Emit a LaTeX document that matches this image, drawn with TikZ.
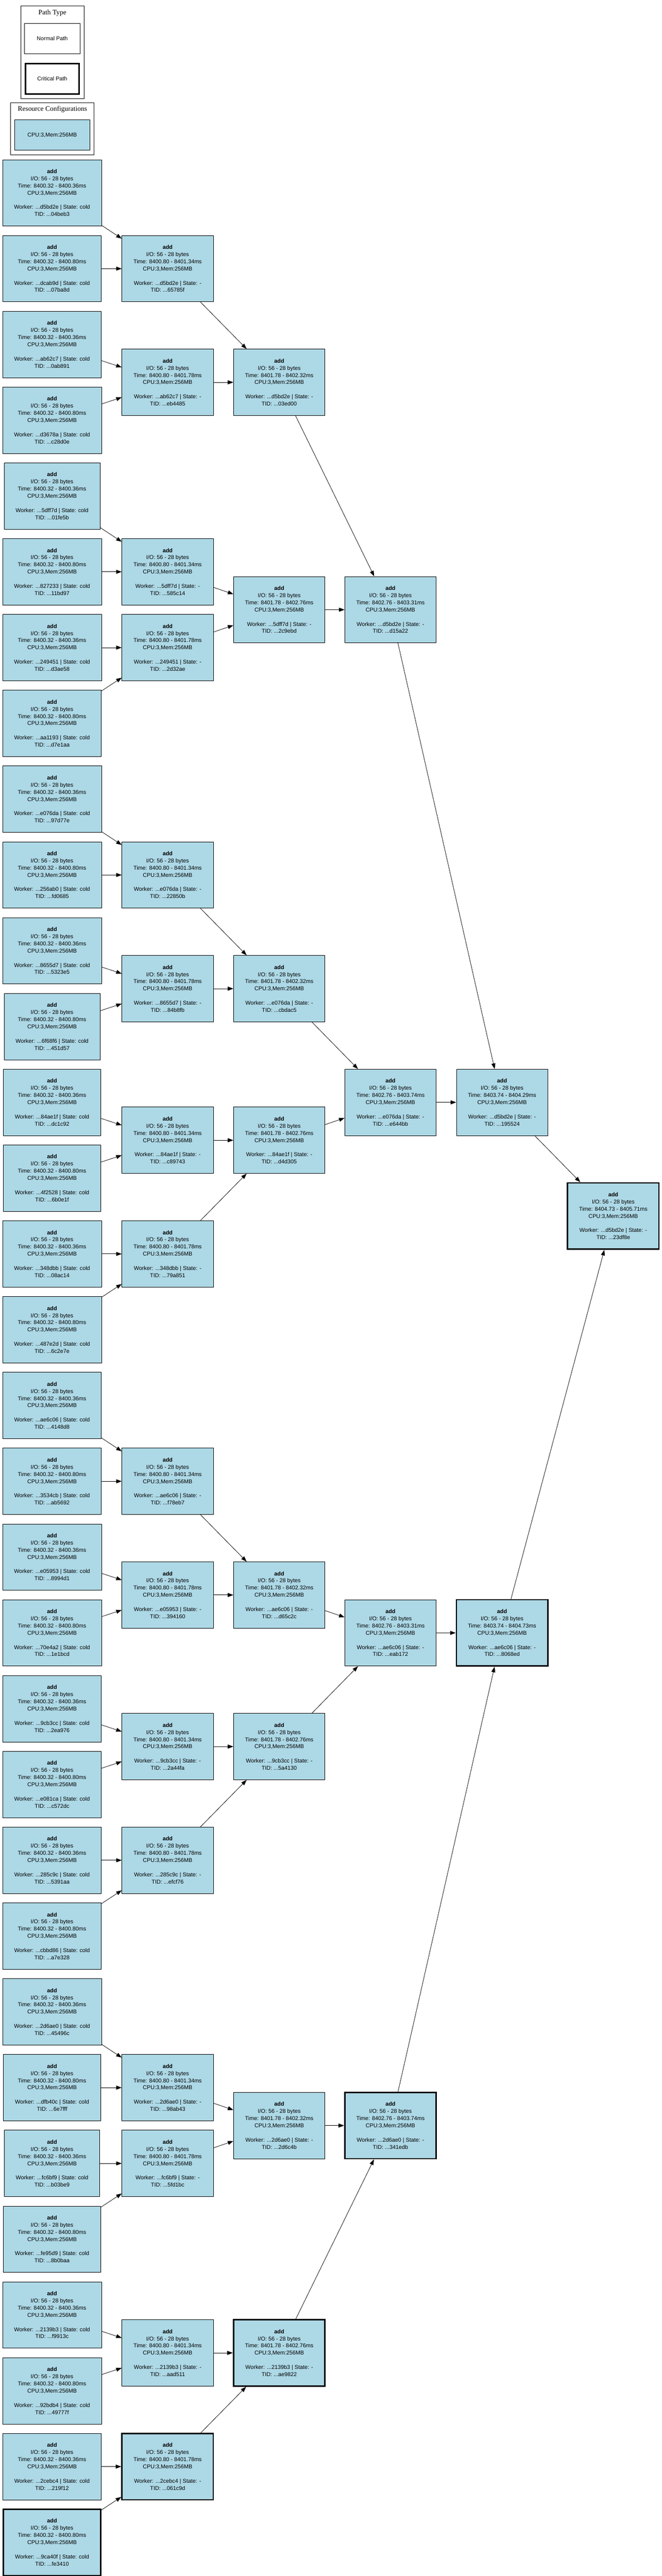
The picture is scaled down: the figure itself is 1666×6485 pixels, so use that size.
\documentclass[tikz,border=0pt]{standalone}
\usepackage{fontspec}
\setmainfont{Liberation Sans}
\newfontfamily\titlefont{Liberation Serif}
\usetikzlibrary{arrows.meta}
\definecolor{lightblue}{HTML}{ADD8E6}
\newcommand{\oplabel}[5]{\textbf{add}\\I/O: 56 - 28 bytes\\Time: #1 - #2ms\\CPU:3,Mem:256MB\\[18pt]Worker: ...#3 | State: #4\\TID: ...#5}
\tikzset{
    %Define standard arrow tip
    >={Triangle[length=14pt,width=10pt]},
    %Define style for operation
    opbox/.style={rectangle, draw=black, line width=1pt, fill=lightblue, minimum height=167pt, inner xsep=29pt, inner ysep=0pt, align=center, font=\fontsize{14}{18}\selectfont},
    critbox/.style={opbox, line width=3.5pt},
    link/.style={->, line width=1pt},
    legendbox/.style={rectangle, draw=black, line width=1pt, minimum width=139pt, minimum height=77pt, font=\fontsize{14}{17}\selectfont},
    clustertitle/.style={font=\titlefont\fontsize{17.5}{20}\selectfont},
    clusterframe/.style={draw=black, line width=1pt},
}
\begin{document}
\begin{tikzpicture}[x=1pt, y=-1pt]
    \useasboundingbox (0,0) rectangle (1666,6485);
    % legend
    \draw[clusterframe] (52,15) rectangle (212,248);
    \node[clustertitle] (pathtitle) at (132,33) {Path Type};
    \node[legendbox] (normal) at (131.5,97) {Normal Path};
    \node[legendbox, line width=4pt, minimum width=135pt, minimum height=77pt] (critical) at (131.5,198.5) {Critical Path};
    \draw[clusterframe] (27,258) rectangle (237,389);
    \node[clustertitle] (restitle) at (132,275) {Resource Configurations};
    \node[legendbox, fill=lightblue, minimum width=189pt, minimum height=76pt] (res) at (131.5,340) {CPU:3,Mem:256MB};

    % leaves
    \foreach \k/\te/\wk/\tid/\st in {0/36/d5bd2e/04beb3/opbox, 1/80/dcab9d/07ba8d/opbox,
        2/36/ab62c7/0ab891/opbox, 3/80/d3678a/c28d0e/opbox, 4/36/5dff7d/01fe5b/opbox,
        5/80/827233/11bd97/opbox, 6/36/249451/d3ae58/opbox, 7/80/aa1193/d7e1aa/opbox,
        8/36/e076da/97d77e/opbox, 9/80/256ab0/fd0685/opbox, 10/36/8655d7/5323e5/opbox,
        11/80/6f68f6/451d57/opbox, 12/36/84ae1f/dc1c92/opbox, 13/80/4f2528/6b0e1f/opbox,
        14/36/348dbb/08ac14/opbox, 15/80/487e2d/6c2e7e/opbox, 16/36/ae6c06/4148d8/opbox,
        17/80/3534cb/ab5692/opbox, 18/36/e05953/8994d1/opbox, 19/80/70e4a2/1e1bcd/opbox,
        20/36/9cb3cc/2ea976/opbox, 21/80/e081ca/c572dc/opbox, 22/36/285c9c/5391aa/opbox,
        23/80/cbbd86/a7e328/opbox, 24/36/2d6ae0/45496c/opbox, 25/80/dfb40c/6e7fff/opbox,
        26/36/fc6bf9/b03be9/opbox, 27/80/fe95d9/8b0baa/opbox, 28/36/2139b3/f9913c/opbox,
        29/80/92bdb4/49777f/opbox, 30/36/2cebc4/219f12/opbox, 31/80/9ca40f/fe3410/critbox}
        \node[\st] (l\k) at (131,{485.5+190.8*\k}) {\oplabel{8400.32}{8400.\te}{\wk}{cold}{\tid}};

    % first merge level
    \foreach \k/\r/\te/\wk/\tid/\st in {0/1/34/d5bd2e/65785f/opbox, 1/2.5/78/ab62c7/eb4485/opbox,
        2/5/34/5dff7d/585c14/opbox, 3/6/78/249451/2d32ae/opbox, 4/9/34/e076da/22850b/opbox,
        5/10.5/78/8655d7/84b8fb/opbox, 6/12.5/34/84ae1f/c89743/opbox, 7/14/78/348dbb/79a851/opbox,
        8/17/34/ae6c06/f78eb7/opbox, 9/18.5/78/e05953/394160/opbox, 10/20.5/34/9cb3cc/2a44fa/opbox,
        11/22/78/285c9c/efcf76/opbox, 12/25/34/2d6ae0/98ab43/opbox, 13/26/78/fc6bf9/5fd1bc/opbox,
        14/28.5/34/2139b3/aad511/opbox, 15/30/78/2cebc4/061c9d/critbox}
        \node[\st] (a\k) at (422,{485.5+190.8*\r}) {\oplabel{8400.80}{8401.\te}{\wk}{-}{\tid}};

    % second merge level
    \foreach \k/\r/\te/\wk/\tid/\st in {0/2.5/32/d5bd2e/03ed00/opbox, 1/5.5/76/5dff7d/2c9ebd/opbox,
        2/10.5/32/e076da/cbdac5/opbox, 3/12.5/76/84ae1f/d4d305/opbox, 4/18.5/32/ae6c06/d65c2c/opbox,
        5/20.5/76/9cb3cc/5a4130/opbox, 6/25.5/32/2d6ae0/2d6c4b/opbox, 7/28.5/76/2139b3/ae9822/critbox}
        \node[\st] (b\k) at (703,{485.5+190.8*\r}) {\oplabel{8401.78}{8402.\te}{\wk}{-}{\tid}};

    % third merge level
    \foreach \k/\r/\te/\wk/\tid/\st in {0/5.5/31/d5bd2e/d15a22/opbox, 1/12/74/e076da/e644bb/opbox,
        2/19/31/ae6c06/eab172/opbox, 3/25.5/74/2d6ae0/341edb/critbox}
        \node[\st] (c\k) at (983,{485.5+190.8*\r}) {\oplabel{8402.76}{8403.\te}{\wk}{-}{\tid}};

    % fourth merge level
    \node[opbox] (d0) at (1264,{485.5+190.8*12}) {\oplabel{8403.74}{8404.29}{d5bd2e}{-}{195524}};
    \node[critbox] (d1) at (1264,{485.5+190.8*19}) {\oplabel{8403.74}{8404.73}{ae6c06}{-}{8068ed}};

    % final result
    \node[critbox] (e0) at (1544,{485.5+190.8*13.5}) {\oplabel{8404.73}{8405.71}{d5bd2e}{-}{23df8e}};

    % connections
    \foreach \p/\q/\n in {l/a/15, a/b/7, b/c/3, c/d/1, d/e/0}
        \foreach \i in {0,...,\n} {
            \pgfmathtruncatemacro\ca{2*\i}
            \pgfmathtruncatemacro\cb{2*\i+1}
            \path (\p\ca) edge [link] (\q\i);
            \path (\p\cb) edge [link] (\q\i);
        }
\end{tikzpicture}
\end{document}
